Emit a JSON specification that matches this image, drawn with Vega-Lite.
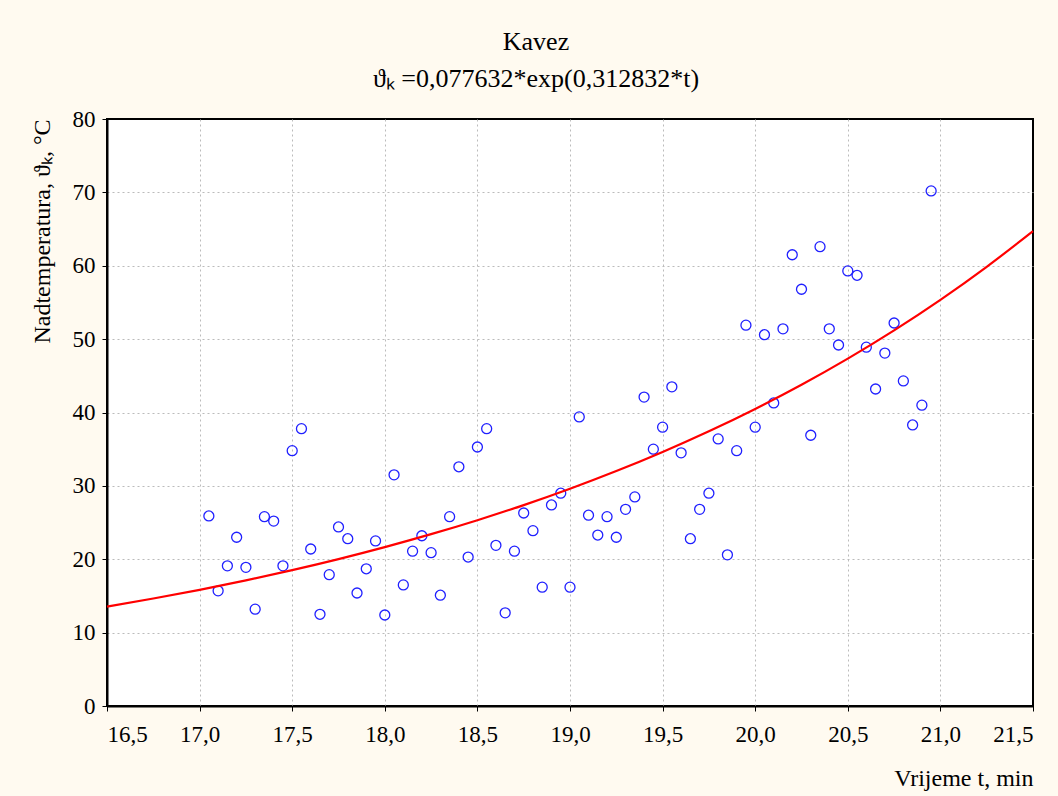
{
  "$schema": "https://vega.github.io/schema/vega-lite/v6.json",
  "width": 926,
  "height": 587,
  "autosize": {"type": "none"},
  "padding": {"left": 107, "top": 119, "right": 25, "bottom": 90},
  "background": "#FFFAF0",
  "title": {
    "text": ["Kavez", "ϑₖ =0,077632*exp(0,312832*t)"],
    "anchor": "middle",
    "dx": -34,
    "offset": 16
  },
  "config": {
    "title": {"font": "Liberation Serif", "fontSize": 26, "lineHeight": 37, "fontWeight": "normal", "color": "#000000"},
    "view": {"stroke": "#000000", "strokeWidth": 2, "fill": "#FFFFFF"},
    "axis": {
      "labelFont": "Liberation Serif",
      "labelFontSize": 23,
      "labelColor": "#000000",
      "titleFont": "Liberation Serif",
      "titleFontSize": 24,
      "titleFontWeight": "normal",
      "titleColor": "#000000",
      "domainColor": "#000000",
      "domainWidth": 2,
      "tickColor": "#000000",
      "gridColor": "#BBBBBB",
      "gridDash": [2, 3],
      "gridWidth": 1
    }
  },
  "datasets": {
    "pts": [
      {"t": 17.05, "v": 25.9}, {"t": 17.10, "v": 15.7}, {"t": 17.15, "v": 19.1}, {"t": 17.20, "v": 23.0},
      {"t": 17.25, "v": 18.9}, {"t": 17.30, "v": 13.2}, {"t": 17.35, "v": 25.8}, {"t": 17.40, "v": 25.2},
      {"t": 17.45, "v": 19.1}, {"t": 17.50, "v": 34.8}, {"t": 17.55, "v": 37.8}, {"t": 17.60, "v": 21.4},
      {"t": 17.65, "v": 12.5}, {"t": 17.70, "v": 17.9}, {"t": 17.75, "v": 24.4}, {"t": 17.80, "v": 22.8},
      {"t": 17.85, "v": 15.4}, {"t": 17.90, "v": 18.7}, {"t": 17.95, "v": 22.5}, {"t": 18.00, "v": 12.4},
      {"t": 18.05, "v": 31.5}, {"t": 18.10, "v": 16.5}, {"t": 18.15, "v": 21.1}, {"t": 18.20, "v": 23.2},
      {"t": 18.25, "v": 20.9}, {"t": 18.30, "v": 15.1}, {"t": 18.35, "v": 25.8}, {"t": 18.40, "v": 32.6},
      {"t": 18.45, "v": 20.3}, {"t": 18.50, "v": 35.3}, {"t": 18.55, "v": 37.8}, {"t": 18.60, "v": 21.9},
      {"t": 18.65, "v": 12.7}, {"t": 18.70, "v": 21.1}, {"t": 18.75, "v": 26.3}, {"t": 18.80, "v": 23.9},
      {"t": 18.85, "v": 16.2}, {"t": 18.90, "v": 27.4}, {"t": 18.95, "v": 29.0}, {"t": 19.00, "v": 16.2},
      {"t": 19.05, "v": 39.4}, {"t": 19.10, "v": 26.0}, {"t": 19.15, "v": 23.3}, {"t": 19.20, "v": 25.8},
      {"t": 19.25, "v": 23.0}, {"t": 19.30, "v": 26.8}, {"t": 19.35, "v": 28.5}, {"t": 19.40, "v": 42.1},
      {"t": 19.45, "v": 35.0}, {"t": 19.50, "v": 38.0}, {"t": 19.55, "v": 43.5}, {"t": 19.60, "v": 34.5},
      {"t": 19.65, "v": 22.8}, {"t": 19.70, "v": 26.8}, {"t": 19.75, "v": 29.0}, {"t": 19.80, "v": 36.4},
      {"t": 19.85, "v": 20.6}, {"t": 19.90, "v": 34.8}, {"t": 19.95, "v": 51.9}, {"t": 20.00, "v": 38.0},
      {"t": 20.05, "v": 50.6}, {"t": 20.10, "v": 41.3}, {"t": 20.15, "v": 51.4}, {"t": 20.20, "v": 61.5},
      {"t": 20.25, "v": 56.8}, {"t": 20.30, "v": 36.9}, {"t": 20.35, "v": 62.6}, {"t": 20.40, "v": 51.4},
      {"t": 20.45, "v": 49.2}, {"t": 20.50, "v": 59.3}, {"t": 20.55, "v": 58.7}, {"t": 20.60, "v": 48.9},
      {"t": 20.65, "v": 43.2}, {"t": 20.70, "v": 48.1}, {"t": 20.75, "v": 52.2}, {"t": 20.80, "v": 44.3},
      {"t": 20.85, "v": 38.3}, {"t": 20.90, "v": 41.0}, {"t": 20.95, "v": 70.2}
    ],
    "fit": [
      {"t": 16.5, "v": 13.544}, {"t": 16.75, "v": 14.646}, {"t": 17.0, "v": 15.837}, {"t": 17.25, "v": 17.125},
      {"t": 17.5, "v": 18.518}, {"t": 17.75, "v": 20.024}, {"t": 18.0, "v": 21.655}, {"t": 18.25, "v": 23.417},
      {"t": 18.5, "v": 25.320}, {"t": 18.75, "v": 27.380}, {"t": 19.0, "v": 29.608}, {"t": 19.25, "v": 32.017},
      {"t": 19.5, "v": 34.621}, {"t": 19.75, "v": 37.437}, {"t": 20.0, "v": 40.484}, {"t": 20.25, "v": 43.777},
      {"t": 20.5, "v": 47.338}, {"t": 20.75, "v": 51.189}, {"t": 21.0, "v": 55.352}, {"t": 21.25, "v": 59.855},
      {"t": 21.5, "v": 64.725}
    ]
  },
  "encoding": {
    "x": {
      "field": "t", "type": "quantitative",
      "scale": {"domain": [16.5, 21.5], "nice": false, "zero": false},
      "axis": {
        "title": "Vrijeme t, min",
        "values": [16.5, 17, 17.5, 18, 18.5, 19, 19.5, 20, 20.5, 21, 21.5],
        "labelExpr": "replace(format(datum.value, '.1f'), '.', ',')",
        "labelPadding": 12,
        "ticks": true,
        "tickSize": 5,
        "gridOpacity": {"condition": {"test": "datum.value <= 16.5 || datum.value >= 21.5", "value": 0}, "value": 1},
        "titleAnchor": "end",
        "titlePadding": 20
      }
    },
    "y": {
      "field": "v", "type": "quantitative",
      "scale": {"domain": [0, 80], "nice": false},
      "axis": {
        "title": "Nadtemperatura, ϑₖ, °C",
        "values": [0, 10, 20, 30, 40, 50, 60, 70, 80],
        "labelPadding": 7,
        "tickSize": 5,
        "gridOpacity": {"condition": {"test": "datum.value <= 0 || datum.value >= 80", "value": 0}, "value": 1},
        "titleAnchor": "end",
        "titlePadding": 18
      }
    }
  },
  "layer": [
    {
      "data": {"name": "pts"},
      "mark": {"type": "point", "shape": "circle", "filled": false, "size": 100, "stroke": "#2020FF", "strokeWidth": 1.3, "opacity": 1}
    },
    {
      "data": {"name": "fit"},
      "mark": {"type": "line", "color": "#FF0000", "strokeWidth": 2.2, "interpolate": "monotone"}
    }
  ]
}
